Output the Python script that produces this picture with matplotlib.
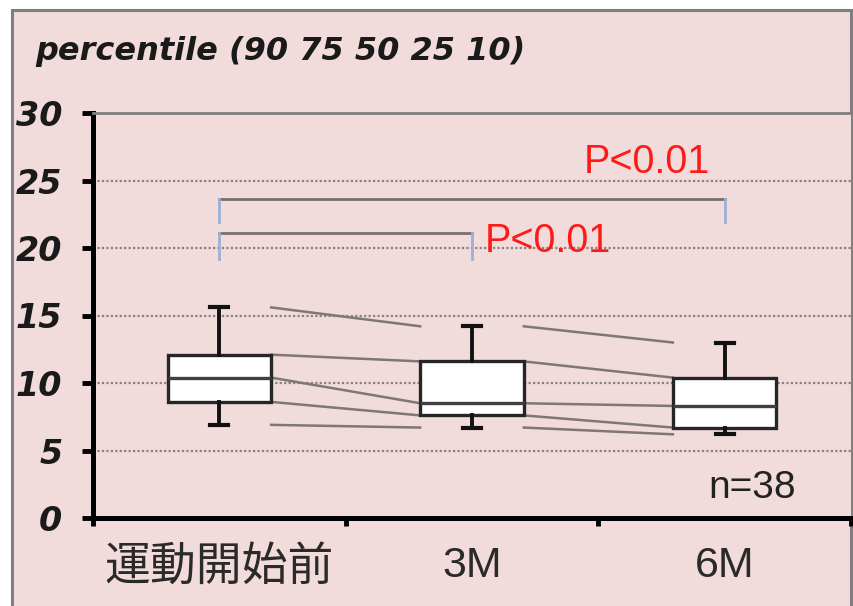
import matplotlib.pyplot as plt
from matplotlib.patches import Rectangle

# percentile summary for each time point
labels = ['運動開始前', '3M', '6M']
p90 = [15.6, 14.2, 13.0]
p75 = [12.1, 11.6, 10.4]
p50 = [10.4, 8.5, 8.3]
p25 = [8.6, 7.6, 6.7]
p10 = [6.9, 6.7, 6.2]

# significance brackets: (from, to, height, tick bottom, label)
brackets = [(1, 3, 23.6, 21.9, 'P<0.01'), (1, 2, 21.1, 19.2, 'P<0.01')]
n_label = 'n=38'

pink = '#f2dcdb'
W = 0.41

fig = plt.figure(figsize=(8.54, 6.06), dpi=100, facecolor='white')
fig.patches.append(Rectangle((12/854, -0.05), 839/854, 1 - 10/606 + 0.05,
                             transform=fig.transFigure, facecolor=pink,
                             edgecolor='#7f7f7f', linewidth=2.2, zorder=-5))

ax = fig.add_axes([93/854, 88/606, 758/854, 405/606])
ax.set_facecolor(pink)

pos = [1, 2, 3]
stats = []
for i in range(3):
    stats.append({'med': p50[i], 'q1': p25[i], 'q3': p75[i],
                  'whislo': p10[i], 'whishi': p90[i], 'fliers': []})

ax.bxp(stats, positions=pos, widths=W, patch_artist=True, capwidths=0.07,
       boxprops=dict(facecolor='white', edgecolor='#262626', linewidth=2.4),
       medianprops=dict(color='#404040', linewidth=2.4),
       whiskerprops=dict(color='#111111', linewidth=2.8),
       capprops=dict(color='#111111', linewidth=3), zorder=3)

# lines joining each percentile between neighbouring boxes
for series in (p90, p75, p50, p25, p10):
    for i in range(2):
        ax.plot([pos[i] + W/2, pos[i+1] - W/2], [series[i], series[i+1]],
                color='#7f7777', linewidth=1.8, zorder=2)

for x0, x1, h, lo, txt in brackets:
    ax.plot([x0, x1], [h, h], color='#787070', linewidth=2, zorder=2)
    for xx in (x0, x1):
        ax.plot([xx, xx], [lo, h], color='#9bb0d3', linewidth=2, zorder=2)

ax.text(2.443, 26.4, brackets[0][4], color='#ff1a1a', fontsize=28.5,
        family='Liberation Sans', ha='left', va='center')
ax.text(2.051, 20.5, brackets[1][4], color='#ff1a1a', fontsize=28.5,
        family='Liberation Sans', ha='left', va='center')
ax.text(3.108, 2.2, n_label, color='#222222', fontsize=28,
        family='Liberation Sans', ha='center', va='center')

ax.set_xlim(0.5, 3.5)
ax.set_ylim(0, 30)
ax.set_yticks(range(0, 31, 5))
ax.set_yticklabels([str(v) for v in range(0, 31, 5)], fontsize=24,
                   family='DejaVu Sans', fontweight='bold', style='italic',
                   color='#1a1a1a')
ax.tick_params(axis='y', direction='out', length=8, width=3.5, pad=14)

ax.set_xticks([0.5, 1.5, 2.5, 3.5])
ax.set_xticklabels([])
ax.set_xticks(pos, minor=True)
ax.set_xticklabels(labels, minor=True, fontsize=31, color='#2a2a2a',
                   family=['Liberation Sans', 'Noto Sans CJK JP'])
ax.get_xticklabels(minor=True)[0].set_fontsize(33)
ax.tick_params(axis='x', which='major', direction='out', length=6, width=3.5)
ax.tick_params(axis='x', which='minor', length=0, pad=20)

ax.yaxis.grid(True, color='#8a8080', linewidth=1.6, linestyle=(0, (1, 1)))
ax.set_axisbelow(True)

ax.spines['left'].set_linewidth(3.6)
ax.spines['bottom'].set_linewidth(3.6)
ax.spines['top'].set_color('#808080')
ax.spines['top'].set_linewidth(2)
ax.spines['right'].set_visible(False)

fig.text(35/854, 1 - 60/606, 'percentile (90 75 50 25 10)', fontsize=23,
         family='DejaVu Sans', fontweight='bold', style='italic',
         color='#1a1a1a', ha='left', va='baseline')

fig.savefig('out.png', dpi=100, facecolor=fig.get_facecolor())
